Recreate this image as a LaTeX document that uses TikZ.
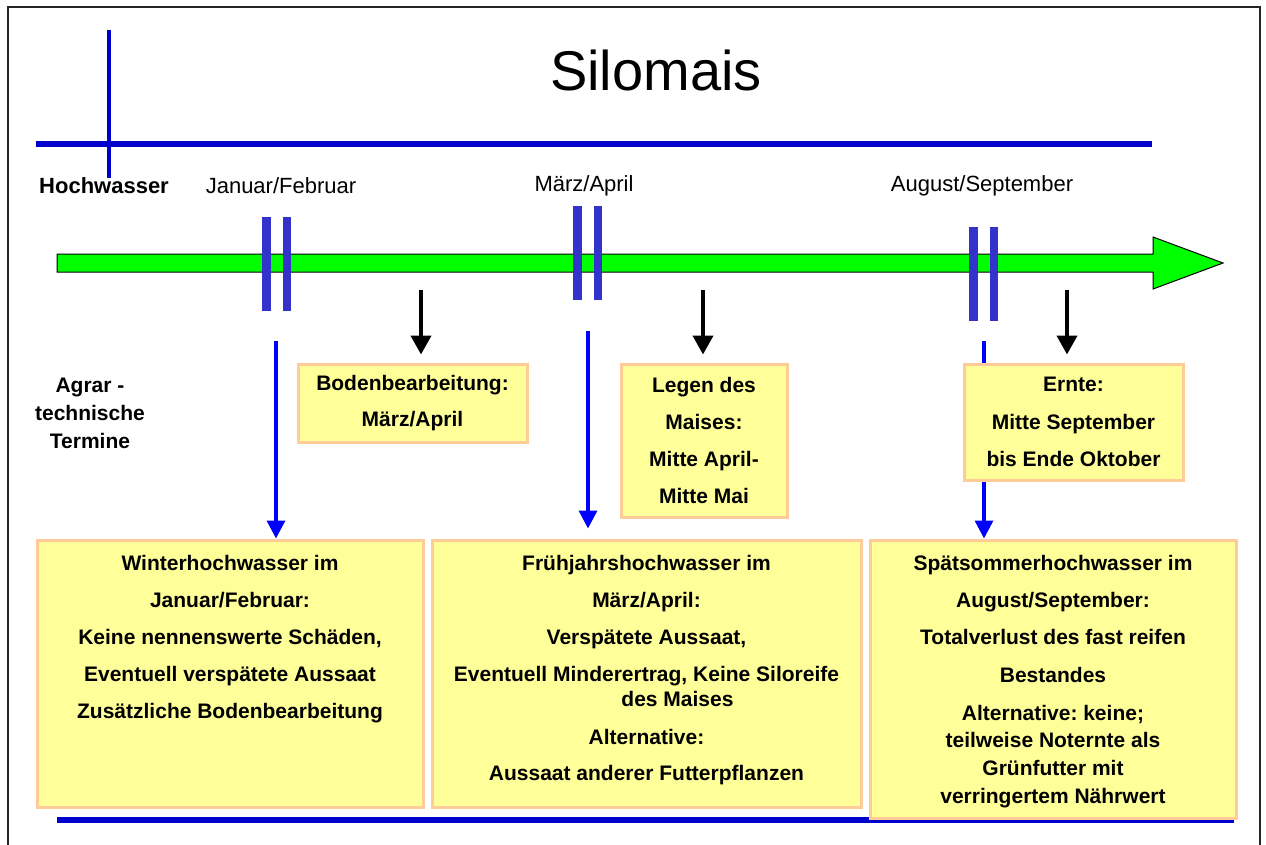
\documentclass[tikz,border=0pt]{standalone}
\usepackage{fontspec}
\setmainfont{Liberation Sans}
\usetikzlibrary{arrows.meta,positioning}
\frenchspacing

\definecolor{linieblau}{HTML}{0000CC}
\definecolor{balkenblau}{HTML}{3333CC}
\definecolor{pfeilblau}{HTML}{0000FF}
\definecolor{zeitgruen}{HTML}{00FF00}
\definecolor{kastengelb}{HTML}{FFFF99}
\definecolor{kastenrand}{HTML}{FFCC99}

\begin{document}
\begin{tikzpicture}[x=1pt,y=-1pt,
   kasten/.style={rectangle,draw=kastenrand,fill=kastengelb,line width=3pt,
                  anchor=north west,inner sep=0pt},
   kastentext/.style={align=center,inner sep=0pt,anchor=north,
                  font=\fontsize{21}{27}\selectfont\bfseries},
   monat/.style={font=\fontsize{22}{26}\selectfont},
   blaupfeil/.style={pfeilblau,line width=3.5pt,-{Triangle[width=18pt,length=18pt]}},
   schwarzpfeil/.style={black,line width=4pt,-{Triangle[width=20pt,length=19pt]}}]
   \useasboundingbox (0,0) rectangle (1266,844);
   \fill[white] (0,0) rectangle (1266,844);
   % Rahmen
   \draw[line width=1.6pt,black!85] (8,860) -- (8,7) -- (1260,7) -- (1260,860);

   % Kopf
   \node (titel) at (656,70) {\fontsize{56}{60}\selectfont Silomais};
   \draw[linieblau,line width=6pt] (36,144) -- (1152,144);
   \draw[linieblau,line width=3.5pt] (109,30) -- (109,178);
   \node[font=\fontsize{22}{26}\selectfont\bfseries] (hw) at (104,186) {Hochwasser};
   \node[monat] (jan) at (281,186) {Januar/Februar};
   \node[monat] (mar) at (584,186) {März/April};
   \node[monat] (aug) at (982,186) {August/September};

   % Zeitachse
   \draw[fill=zeitgruen,line width=1pt] (57,254) -- (1153,254) -- (1153,237) -- (1223,263)
      -- (1153,289) -- (1153,272) -- (57,272) -- cycle;
   \foreach \x/\y in {262/217, 573/206, 969/227} {
      \fill[balkenblau] (\x,\y) rectangle ++(8.5,94);
      \fill[balkenblau] (\x+20.5,\y) rectangle ++(8.5,94);
   }

   \node[align=center,font=\fontsize{21}{28}\selectfont\bfseries] (agrar) at (90,413)
      {Agrar -\\technische\\Termine};

   \draw[linieblau,line width=6pt] (57,820) -- (1234,820);

   % Hochwasserfolgen
   \node[kasten,minimum width=386pt,minimum height=267pt] (winter) at (35.5,538.5) {};
   \node[kastentext,below=17pt of winter.north] (wintertxt)
      {Winterhochwasser im\\[10pt]Januar/Februar:\\[10pt]Keine nennenswerte Schäden,\\[10pt]
       Eventuell verspätete Aussaat\\[10pt]Zusätzliche Bodenbearbeitung};
   \node[kasten,minimum width=429pt,minimum height=267pt] (fruehjahr) at (430.5,538.5) {};
   \node[kastentext,below=17pt of fruehjahr.north] (fruehjahrtxt)
      {Frühjahrshochwasser im\\[10pt]März/April:\\[10pt]Verspätete Aussaat,\\[10pt]
       Eventuell Minderertrag, Keine Siloreife\\[-2pt]\hspace*{62pt}des Maises\\[11pt]
       Alternative:\\[9pt]Aussaat anderer Futterpflanzen};
   \node[kasten,minimum width=366pt,minimum height=278pt] (spaet) at (868.5,538.5) {};
   \node[kastentext,below=17pt of spaet.north] (spaettxt)
      {Spätsommerhochwasser im\\[10pt]August/September:\\[10pt]Totalverlust des fast reifen\\[11pt]
       Bestandes\\[11pt]Alternative: keine;\\teilweise Noternte als\\[1pt]Grünfutter mit\\[1pt]
       verringertem Nährwert};

   \coordinate (j1) at (276,341);
   \coordinate (m1) at (588,331);
   \coordinate (a1) at (984,341);
   \draw[blaupfeil] (j1) -- (j1 |- winter.north);
   \draw[blaupfeil,shorten >=10pt] (m1) -- (m1 |- fruehjahr.north);
   \draw[blaupfeil] (a1) -- (a1 |- spaet.north);

   % Agrartechnische Termine
   \node[kasten,minimum width=229pt,minimum height=78pt,align=center,
         font=\fontsize{21}{36}\selectfont\bfseries] (boden) at (296.5,362.5)
      {Bodenbearbeitung:\\März/April};
   \node[kasten,minimum width=166pt,minimum height=153pt,align=center,
         font=\fontsize{21}{37}\selectfont\bfseries] (legen) at (619.5,362.5)
      {Legen des\\Maises:\\Mitte April-\\Mitte Mai};
   \node[kasten,minimum width=219pt,minimum height=116pt,align=center,
         font=\fontsize{21}{37.5}\selectfont\bfseries] (ernte) at (962.5,362.5)
      {Ernte:\\Mitte September\\bis Ende Oktober};

   \coordinate (b1) at (421,290);
   \coordinate (l1) at (703,290);
   \coordinate (e1) at (1067,290);
   \draw[schwarzpfeil,shorten >=8pt] (b1) -- (b1 |- boden.north);
   \draw[schwarzpfeil,shorten >=8pt] (l1) -- (l1 |- legen.north);
   \draw[schwarzpfeil,shorten >=8pt] (e1) -- (e1 |- ernte.north);
\end{tikzpicture}
\end{document}
